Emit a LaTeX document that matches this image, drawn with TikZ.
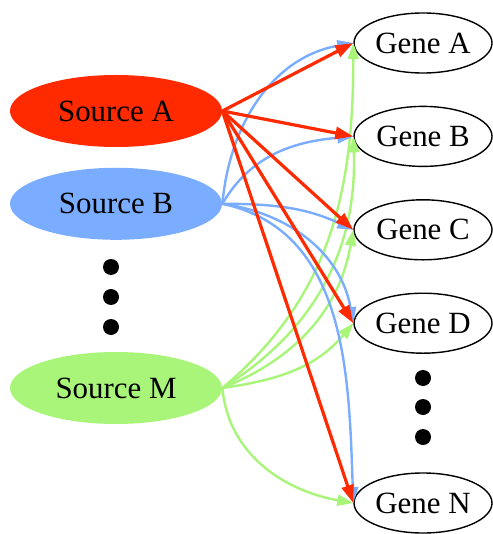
\documentclass[tikz,border=0pt]{standalone}
\usepackage{fontspec}
\setmainfont{Liberation Serif}
\usepackage{xcolor}
\usetikzlibrary{positioning, arrows.meta, shapes.geometric}
\definecolor{srcRed}{RGB}{255,42,0}
\definecolor{srcBlue}{RGB}{122,173,255}
\definecolor{srcGreen}{RGB}{168,245,122}
\tikzset{
    source/.style={ellipse, fill=#1, minimum width=106bp, minimum height=36bp, inner sep=0pt, font=\fontsize{15.5}{18}\selectfont},
    gene/.style={ellipse, draw=black, line width=0.7bp, fill=white, minimum width=69bp, minimum height=30bp, inner sep=0pt, font=\fontsize{15.5}{18}\selectfont},
    link/.style={-{Triangle[length=8bp, width=5.5bp]}, line width=1.2bp, draw=#1},
    strong/.style={-{Triangle[length=9bp, width=6bp]}, line width=1.6bp, draw=#1}
}

\begin{document}
\begin{tikzpicture}[x=0.5bp, y=0.5bp]
        \useasboundingbox (0,0) rectangle (493,-534);

        % Sources
        \node[source=srcRed] (SourceA) at (116,-111) {Source A};
        \node[source=srcBlue, below=10bp of SourceA] (SourceB) {Source B};
        \node[source=srcGreen] (SourceM) at (116,-388) {Source M};

        % Genes
        \node[gene] (GeneA) at (423,-43) {Gene A};
        \node[gene, below=16bp of GeneA] (GeneB) {Gene B};
        \node[gene, below=16bp of GeneB] (GeneC) {Gene C};
        \node[gene, below=16bp of GeneC] (GeneD) {Gene D};
        \node[gene] (GeneN) at (423,-503) {Gene N};

        % Dots
        \foreach \y in {267,297,327} \fill (111,-\y) circle[radius=4bp];
        \foreach \y in {378,407,437} \fill (423,-\y) circle[radius=4bp];

        % Wires from Source M
        \draw[link=srcGreen] (SourceM.east) to[out=40, in=-90] (GeneA.west);
        \draw[link=srcGreen] (SourceM.east) to[out=32, in=-88] (GeneB.west);
        \draw[link=srcGreen] (SourceM.east) to[out=22, in=-100] (GeneC.west);
        \draw[link=srcGreen] (SourceM.east) to[out=8, in=-130] (GeneD.west);
        \draw[link=srcGreen] (SourceM.east) to[out=-85, in=170] (GeneN.west);

        % Wires from Source B
        \draw[link=srcBlue] (SourceB.east) to[out=85, in=190] (GeneA.west);
        \draw[link=srcBlue] (SourceB.east) to[out=60, in=185] (GeneB.west);
        \draw[link=srcBlue] (SourceB.east) to[out=0, in=155] (GeneC.west);
        \draw[link=srcBlue] (SourceB.east) to[out=-8, in=100] (GeneD.west);
        \draw[link=srcBlue] (SourceB.east) to[out=-12, in=92] (GeneN.west);

        % Wires from Source A
        \draw[strong=srcRed] (SourceA.east) -- (GeneA.west);
        \draw[strong=srcRed] (SourceA.east) -- (GeneB.west);
        \draw[strong=srcRed] (SourceA.east) -- (GeneC.west);
        \draw[strong=srcRed] (SourceA.east) -- (GeneD.west);
        \draw[strong=srcRed] (SourceA.east) -- (GeneN.west);

    \end{tikzpicture}
\end{document}
